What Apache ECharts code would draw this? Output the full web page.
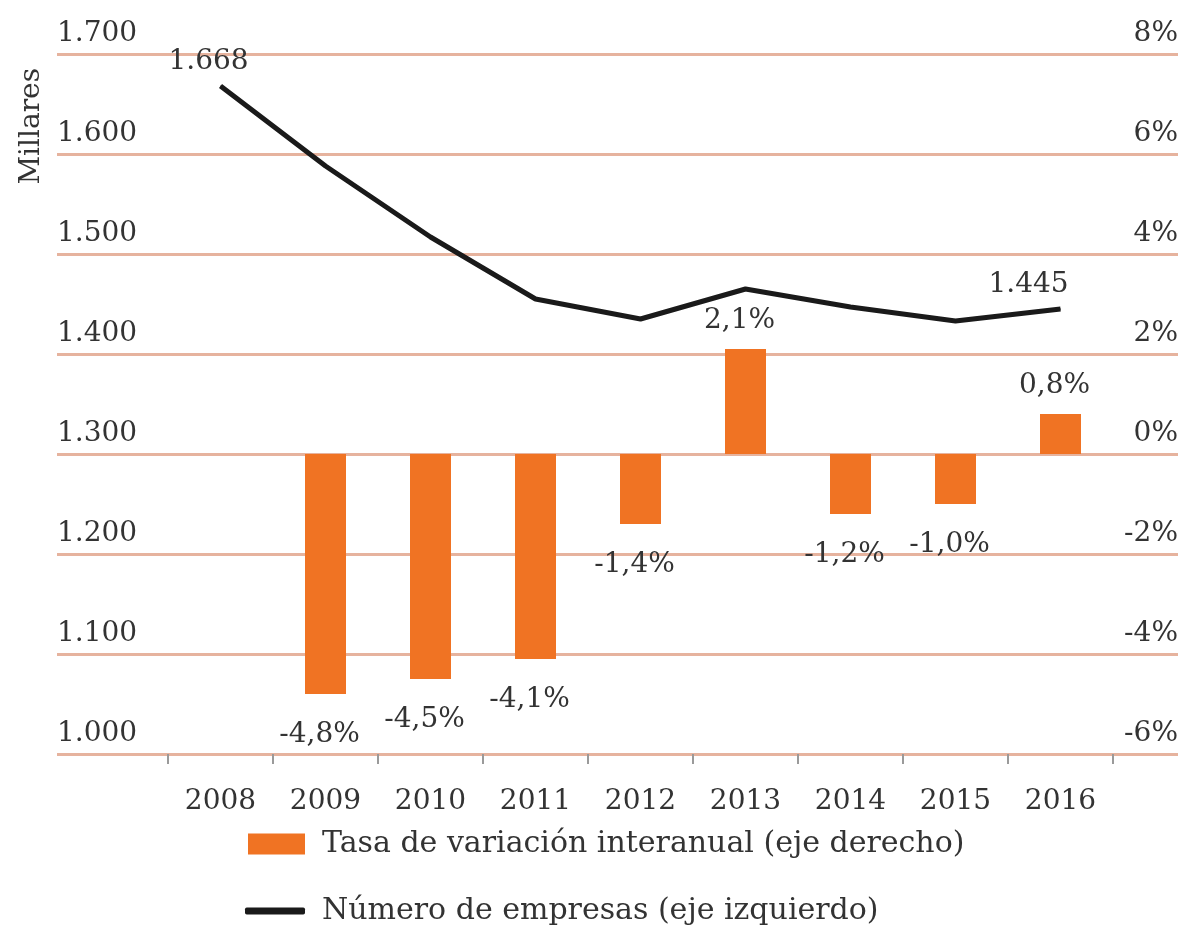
<!DOCTYPE html>
<html>
<head>
<meta charset="utf-8">
<script src="https://cdn.jsdelivr.net/npm/echarts@6/dist/echarts.min.js"></script>
<style>
html,body{margin:0;padding:0;background:#fff;}
#c{width:1186px;height:949px;}
</style>
</head>
<body>
<div id="c"></div>
<script>
const years = ['2008','2009','2010','2011','2012','2013','2014','2015','2016'];
const empresas = [1668, 1588, 1517, 1455, 1435, 1465, 1447, 1433, 1445];
const tasa = [null, -4.8, -4.5, -4.1, -1.4, 2.1, -1.2, -1.0, 0.8];
const leftAxis = {min: 1000, max: 1700, interval: 100};
const rightAxis = {min: -6, max: 8, interval: 2};
const nameBar = 'Tasa de variación interanual (eje derecho)';
const nameLine = 'Número de empresas (eje izquierdo)';
const axisName = 'Millares';

const FONT = 'DejaVu Serif';
const FS = 28;
const TXT = '#333333';
const GRIDC = '#e6b39e';
const ORANGE = '#f07323';
const LINEC = '#1a1a1a';

function fmtThousands(v){
  const t = Math.floor(v/1000), r = v % 1000;
  return t + '.' + String(r).padStart(3,'0');
}
function fmtPct(v){ return v.toFixed(1).replace('.', ',') + '%'; }

const lineData = empresas.map((v,i) => {
  const last = i === empresas.length - 1;
  if (i === 0 || last) {
    return {value: v, label: {show: true, position: 'top', distance: 10,
      offset: [i === 0 ? -12 : -32, 0],
      formatter: p => fmtThousands(p.value)}};
  }
  return v;
});
const barData = tasa.map(v => {
  if (v === null) return null;
  return {value: v, label: {show: true, position: v < 0 ? 'bottom' : 'top', distance: v < 0 ? 27 : 14,
    offset: [-6, 0], formatter: p => fmtPct(p.value)}};
});

const chart = echarts.init(document.getElementById('c'));
chart.setOption({
  animation: false,
  textStyle: {fontFamily: FONT, color: TXT},
  grid: [
    {left: 57, right: 8, top: 54, height: 700},
    {left: 168, right: 73, top: 54, height: 700}
  ],
  xAxis: [
    {gridIndex: 0, type: 'value', show: false, min: 0, max: 1},
    {gridIndex: 1, type: 'category', data: years, boundaryGap: true,
      axisLine: {show: true, onZero: false, lineStyle: {color: GRIDC, width: 3}},
      axisTick: {show: true, alignWithLabel: false, length: 10, lineStyle: {color: '#9a9a9a', width: 2}},
      axisLabel: {interval: 0, margin: 34, fontFamily: FONT, fontSize: FS, color: TXT},
      splitLine: {show: false}}
  ],
  yAxis: [
    {gridIndex: 0, type: 'value', position: 'left', min: leftAxis.min, max: leftAxis.max, interval: leftAxis.interval,
      axisLine: {show: false}, axisTick: {show: false},
      splitLine: {show: true, lineStyle: {color: GRIDC, width: 3}},
      axisLabel: {inside: true, align: 'left', verticalAlign: 'bottom', margin: 0, padding: [0,0,6,0],
        fontFamily: FONT, fontSize: FS, color: TXT, formatter: v => fmtThousands(v)}},
    {gridIndex: 0, type: 'value', position: 'right', min: rightAxis.min, max: rightAxis.max, interval: rightAxis.interval,
      axisLine: {show: false}, axisTick: {show: false}, splitLine: {show: false},
      axisLabel: {inside: true, align: 'right', verticalAlign: 'bottom', margin: 0, padding: [0,0,6,0],
        fontFamily: FONT, fontSize: FS, color: TXT, formatter: v => v + '%'}},
    {gridIndex: 1, type: 'value', min: leftAxis.min, max: leftAxis.max, interval: leftAxis.interval, show: false,
      splitLine: {show: false}},
    {gridIndex: 1, type: 'value', min: rightAxis.min, max: rightAxis.max, interval: rightAxis.interval, show: false,
      splitLine: {show: false}}
  ],
  graphic: [
    {type: 'text', left: 18, top: 68, rotation: Math.PI/2, style: {text: axisName, font: FS + 'px "' + FONT + '"', fill: TXT}}
  ],
  legend: [
    {data: [{name: nameBar, icon: 'rect', itemStyle: {color: ORANGE}}], orient: 'vertical', left: 248, top: 829, padding: 0,
      itemWidth: 57, itemHeight: 21, itemGap: 10,
      textStyle: {fontFamily: FONT, fontSize: 30, color: TXT, padding: [0,0,0,12]}},
    {data: [{name: nameLine, icon: 'roundRect', itemStyle: {color: LINEC}}], orient: 'vertical', left: 245, top: 896, padding: 0,
      itemWidth: 60, itemHeight: 7, itemGap: 10,
      textStyle: {fontFamily: FONT, fontSize: 30, color: TXT, padding: [0,0,0,12]}}
  ],
  series: [
    {name: nameBar, type: 'bar', xAxisIndex: 1, yAxisIndex: 3, data: barData, barWidth: 41,
      itemStyle: {color: ORANGE},
      label: {fontFamily: FONT, fontSize: FS, color: TXT}},
    {name: nameLine, type: 'line', xAxisIndex: 1, yAxisIndex: 2, data: lineData,
      symbol: 'circle', symbolSize: 1, showSymbol: true,
      lineStyle: {color: LINEC, width: 5}, itemStyle: {color: LINEC},
      label: {fontFamily: FONT, fontSize: FS, color: TXT}, z: 5}
  ]
});
</script>
</body>
</html>
